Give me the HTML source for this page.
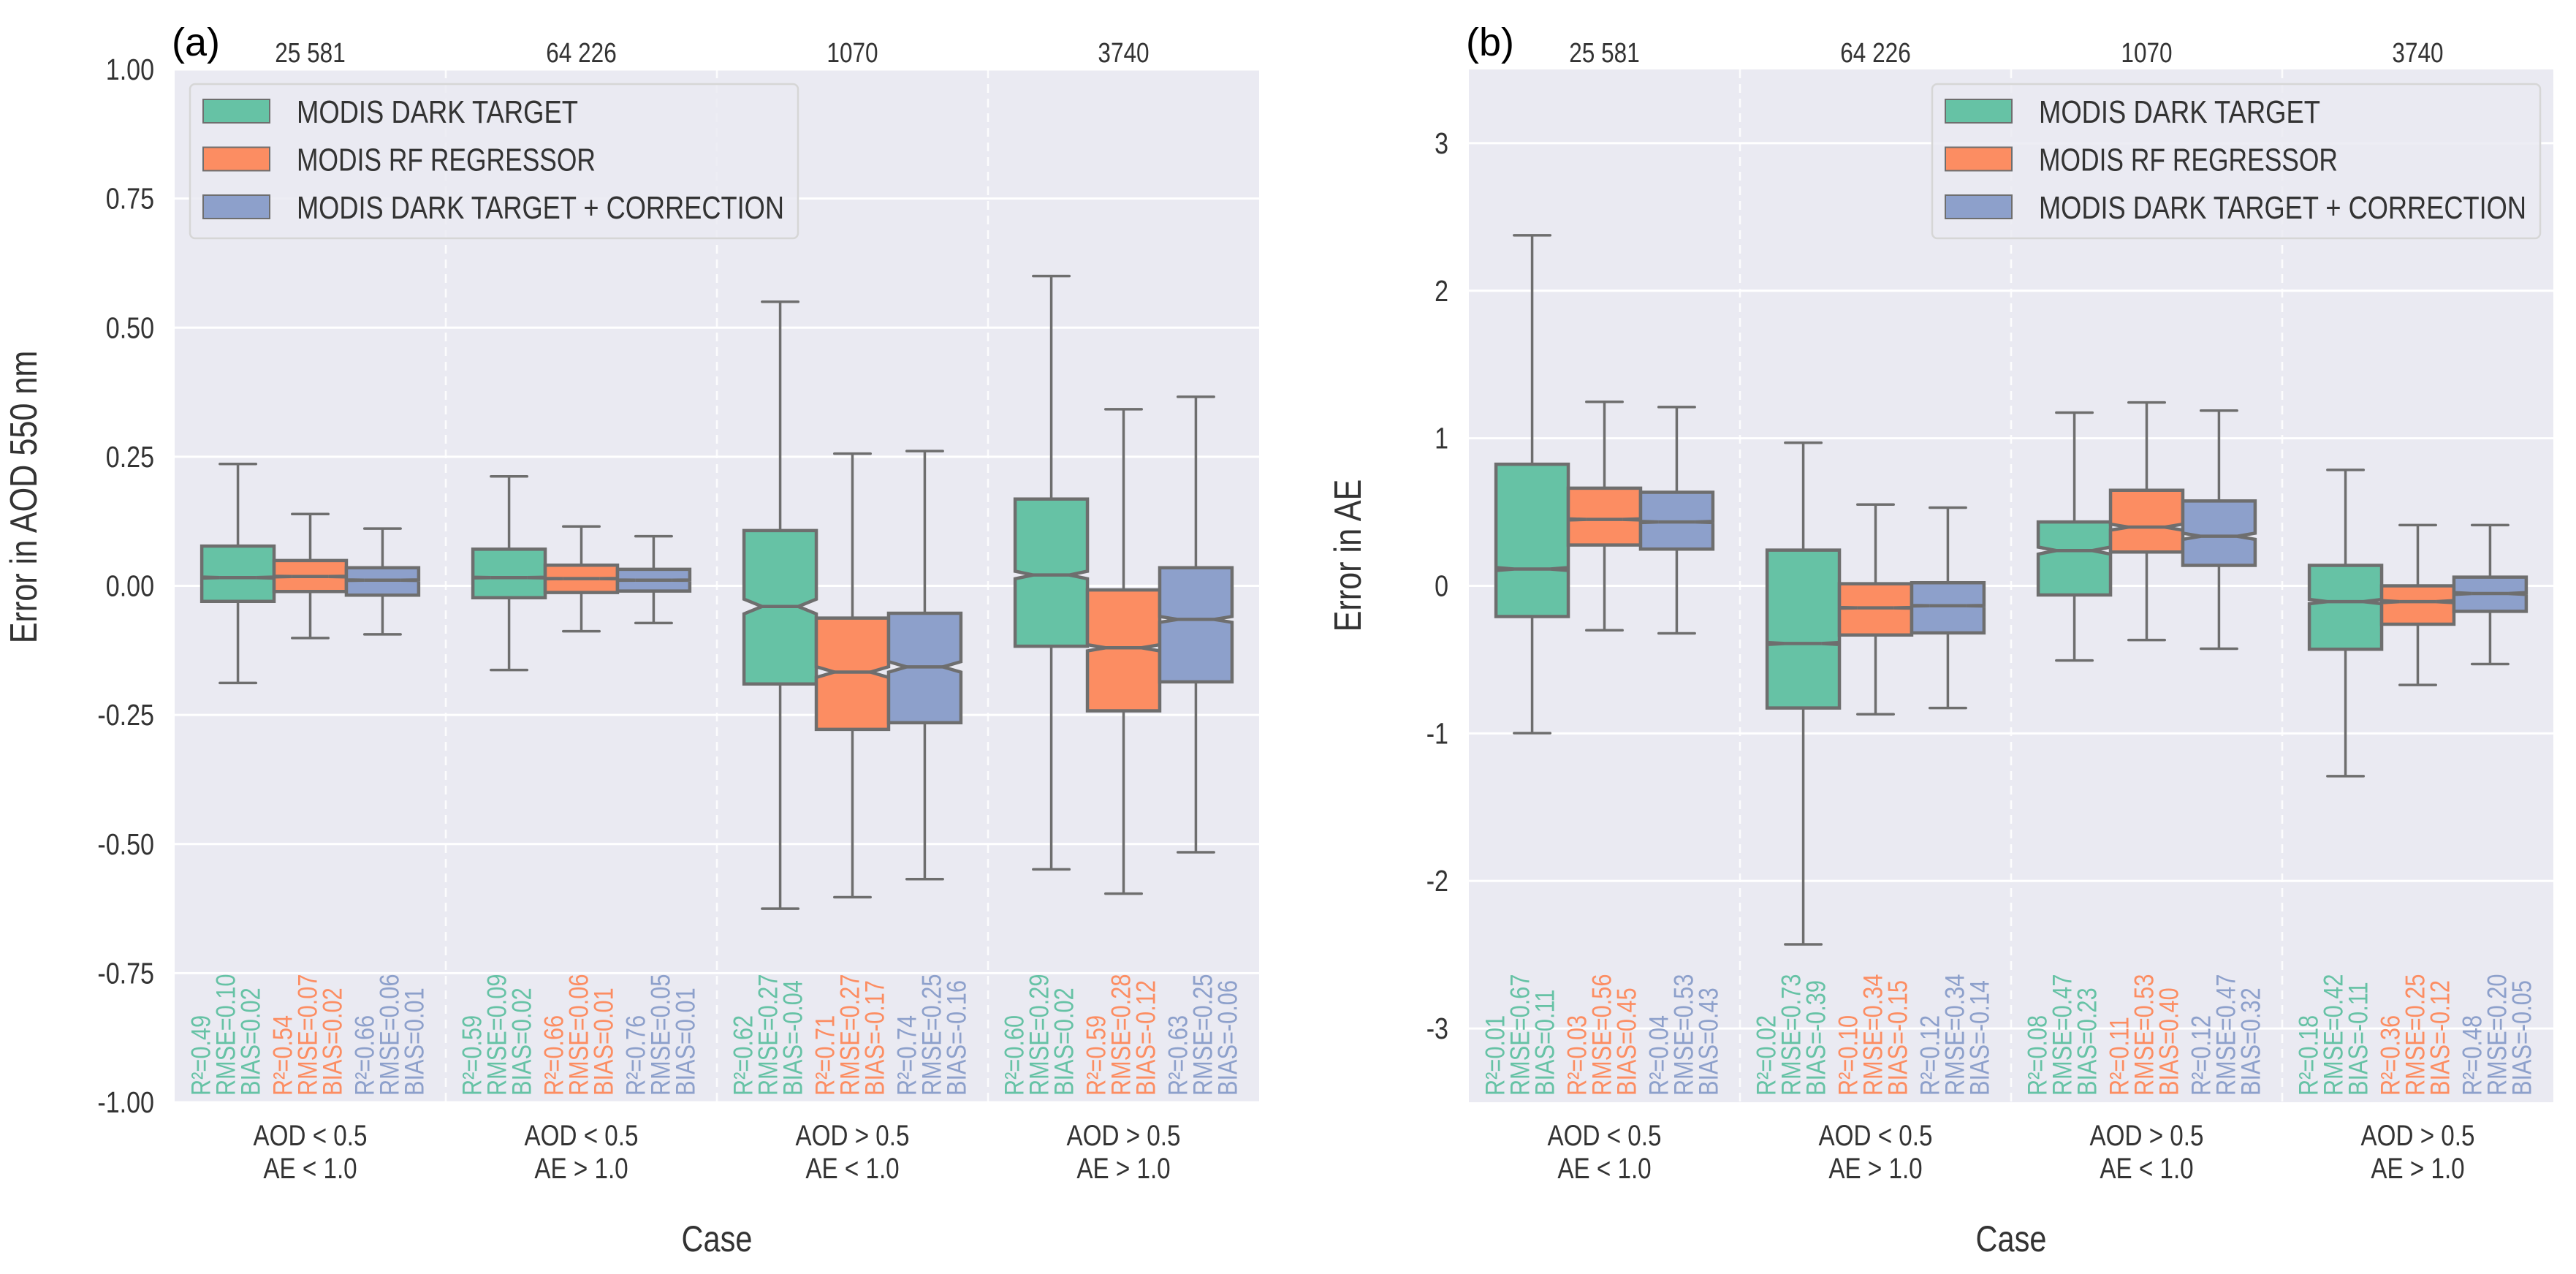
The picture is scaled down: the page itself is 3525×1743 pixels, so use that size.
<!DOCTYPE html>
<html><head><meta charset="utf-8"><title>AOD and AE error box plots</title>
<style>
html,body{margin:0;padding:0;background:#fff;}
svg{display:block;}
text{font-family:"Liberation Sans Narrow","Liberation Sans",sans-serif;}
</style></head>
<body>
<svg id="fig" xmlns="http://www.w3.org/2000/svg" width="3525" height="1743" viewBox="0 0 3525 1743"></svg>
<script>
// ---- data ----
const categoryLine1 = ["AOD < 0.5","AOD < 0.5","AOD > 0.5","AOD > 0.5"];
const categoryLine2 = ["AE < 1.0","AE > 1.0","AE < 1.0","AE > 1.0"];
const counts = [25581, 64226, 1070, 3740];
const countLabels = ["25 581","64 226","1070","3740"];
const seriesNames = ["MODIS DARK TARGET","MODIS RF REGRESSOR","MODIS DARK TARGET + CORRECTION"];
// five-number summaries [lowWhisker, q1, median, q3, highWhisker] per category
const aodDarkTarget = [[-0.188,-0.030,0.016,0.077,0.236],[-0.163,-0.023,0.016,0.071,0.212],[-0.625,-0.190,-0.040,0.107,0.550],[-0.549,-0.117,0.021,0.168,0.600]];
const aodRfRegressor = [[-0.101,-0.011,0.018,0.049,0.139],[-0.088,-0.013,0.014,0.040,0.115],[-0.603,-0.278,-0.167,-0.0625,0.256],[-0.596,-0.242,-0.120,-0.008,0.342]];
const aodCorrection = [[-0.094,-0.018,0.011,0.035,0.111],[-0.072,-0.010,0.011,0.032,0.096],[-0.568,-0.265,-0.157,-0.053,0.261],[-0.516,-0.186,-0.065,0.035,0.366]];
const aeDarkTarget = [[-0.998,-0.208,0.114,0.824,2.376],[-2.43,-0.828,-0.391,0.242,0.970],[-0.506,-0.062,0.239,0.433,1.174],[-1.29,-0.430,-0.107,0.139,0.786]];
const aeRfRegressor = [[-0.301,0.277,0.450,0.662,1.247],[-0.870,-0.333,-0.149,0.014,0.551],[-0.367,0.229,0.398,0.648,1.243],[-0.672,-0.260,-0.107,0.000,0.412]];
const aeCorrection = [[-0.322,0.249,0.433,0.634,1.212],[-0.828,-0.319,-0.135,0.021,0.530],[-0.426,0.139,0.336,0.575,1.188],[-0.530,-0.173,-0.052,0.059,0.412]];
// stats [R2, RMSE, BIAS] per category per series
const aodStatsDT = [[0.49,0.10,0.02],[0.59,0.09,0.02],[0.62,0.27,-0.04],[0.60,0.29,0.02]];
const aodStatsRF = [[0.54,0.07,0.02],[0.66,0.06,0.01],[0.71,0.27,-0.17],[0.59,0.28,-0.12]];
const aodStatsDTC = [[0.66,0.06,0.01],[0.76,0.05,0.01],[0.74,0.25,-0.16],[0.63,0.25,-0.06]];
const aeStatsDT = [[0.01,0.67,0.11],[0.02,0.73,-0.39],[0.08,0.47,0.23],[0.18,0.42,-0.11]];
const aeStatsRF = [[0.03,0.56,0.45],[0.10,0.34,-0.15],[0.11,0.53,0.40],[0.36,0.25,-0.12]];
const aeStatsDTC = [[0.04,0.53,0.43],[0.12,0.34,-0.14],[0.12,0.47,0.32],[0.48,0.20,-0.05]];
const aodTicks = [1.00,0.75,0.50,0.25,0.00,-0.25,-0.50,-0.75,-1.00];
const aeTicks = [3,2,1,0,-1,-2,-3];

const colors = ["#66c2a5","#fc8d62","#8da0cb"];
const EDGE = "#6e6e6e";
const NS = "http://www.w3.org/2000/svg";
const svg = document.getElementById('fig');
const condensed = [];
function mk(tag, attrs, parent){
  const e = document.createElementNS(NS, tag);
  for (const k in attrs) e.setAttribute(k, attrs[k]);
  (parent||svg).appendChild(e);
  return e;
}
function fmt(v){ return v.toFixed(2); }

function panel(opt){
  const L = opt.left, R = opt.left + 1484, T = 95, B = 1508;
  const y = v => T + (opt.ymax - v) / (opt.ymax - opt.ymin) * (B - T);
  const gw = (R - L) / 4;
  const gx = i => L + gw * (i + 0.5);
  const bw = gw * 0.8 / 3;
  const g = mk('g', {});
  
  
  const bg = mk('rect', {x:L, y:T, width:R-L, height:B-T, fill:'#eaeaf2'}, g);
  
  
  opt.ticks.forEach(t => {
    const gl = mk('line', {x1:L, x2:R, y1:y(t), y2:y(t), stroke:'#fff', 'stroke-width':3}, g);
    
    
    const tl = mk('text', {x:L-28, y:y(t)+14, 'text-anchor':'end', 'font-size':41, fill:'#333'}, g);
    tl.textContent = opt.tickFmt(t);
    
    
    condensed.push(tl);
  });
  for (let i = 1; i < 4; i++) {
    const sl = mk('line', {x1:L+gw*i, x2:L+gw*i, y1:T, y2:B, stroke:'#fff', 'stroke-width':2.5, 'stroke-dasharray':'12,8', opacity:0.9}, g);
    
    
  }
  opt.data.forEach((ser, s) => {
    ser.forEach((d, i) => {
      const cx = gx(i) + (s - 1) * bw;
      const bl = cx - bw/2, br = cx + bw/2, ql = cx - bw/4, qr = cx + bw/4;
      const [lo, q1, med, q3, hi] = d;
      const nh = 1.57 * (q3 - q1) / Math.sqrt(counts[i]);
      const bx = mk('g', {}, g);
      
      
      mk('line', {x1:cx, x2:cx, y1:y(q3), y2:y(hi), stroke:EDGE, 'stroke-width':3.5}, bx);
      mk('line', {x1:cx, x2:cx, y1:y(q1), y2:y(lo), stroke:EDGE, 'stroke-width':3.5}, bx);
      mk('line', {x1:ql, x2:qr, y1:y(hi), y2:y(hi), stroke:EDGE, 'stroke-width':3.5, 'stroke-linecap':'round'}, bx);
      mk('line', {x1:ql, x2:qr, y1:y(lo), y2:y(lo), stroke:EDGE, 'stroke-width':3.5, 'stroke-linecap':'round'}, bx);
      const pts = [[bl,y(q1)],[br,y(q1)],[br,y(med-nh)],[qr,y(med)],[br,y(med+nh)],[br,y(q3)],[bl,y(q3)],[bl,y(med+nh)],[ql,y(med)],[bl,y(med-nh)]];
      mk('polygon', {points:pts.map(p=>p.join(',')).join(' '), fill:colors[s], stroke:EDGE, 'stroke-width':4.5, 'stroke-linejoin':'miter'}, bx);
      mk('line', {x1:ql, x2:qr, y1:y(med), y2:y(med), stroke:EDGE, 'stroke-width':4.5}, bx);
    });
  });
  const offs = [-150, -38, 74];
  opt.stats.forEach((ser, s) => {
    ser.forEach((st, i) => {
      const lines = ['R\u00b2=' + fmt(st[0]), 'RMSE=' + fmt(st[1]), 'BIAS=' + fmt(st[2])];
      lines.forEach((tx, k) => {
        const xx = gx(i) + offs[s] + k*34 + 13;
        const t = mk('text', {x:xx, y:1499, transform:'rotate(-90 ' + xx + ' 1499)', 'font-size':37, fill:colors[s]}, g);
        t.textContent = tx;
        
        
        condensed.push(t);
      });
    });
  });
  for (let i = 0; i < 4; i++) {
    const c = mk('text', {x:gx(i), y:85, 'text-anchor':'middle', 'font-size':38, fill:'#333'}, g);
    c.textContent = countLabels[i];
    
    
    condensed.push(c);
    const a = mk('text', {x:gx(i), y:1567, 'text-anchor':'middle', 'font-size':40, fill:'#333'}, g);
    a.textContent = categoryLine1[i];
    
    
    condensed.push(a);
    const b = mk('text', {x:gx(i), y:1612, 'text-anchor':'middle', 'font-size':40, fill:'#333'}, g);
    b.textContent = categoryLine2[i];
    
    
    condensed.push(b);
  }
  const xt = mk('text', {x:(L+R)/2, y:1712, 'text-anchor':'middle', 'font-size':50, fill:'#333'}, g);
  xt.textContent = 'Case';
  
  
  condensed.push(xt);
  const yt = mk('text', {x:opt.ytX, y:opt.ytY, 'text-anchor':'middle', 'font-size':52, fill:'#333', transform:'rotate(-90 ' + opt.ytX + ' ' + opt.ytY + ')'}, g);
  yt.textContent = opt.ytitle;
  
  
  condensed.push(yt);
  const pl = mk('text', {x:L-4, y:76, 'font-size':54, fill:'#000', style:'font-family:"Liberation Sans",sans-serif'}, g);
  pl.textContent = opt.letter;
  
  
  const lg = mk('g', {}, g);
  
  
  mk('rect', {x:opt.legX, y:115, width:832, height:211, rx:7, fill:'#eaeaf2', 'fill-opacity':0.85, stroke:'#d6d6d6', 'stroke-width':2.5}, lg);
  seriesNames.forEach((n, s) => {
    const cy = 152 + s*65.5;
    const e = mk('g', {}, lg);
    
    
    mk('rect', {x:opt.legX+18, y:cy-16, width:91, height:32, fill:colors[s], stroke:EDGE, 'stroke-width':2}, e);
    const t = mk('text', {x:opt.legX+146, y:cy+16, 'font-size':44, fill:'#333', textLength:[385,409,667][s], lengthAdjust:'spacingAndGlyphs'}, e);
    t.textContent = n;
  });
}

panel({name:'aod-panel', left:239, ymin:-1, ymax:1, ticks:aodTicks, tickFmt:v=>v.toFixed(2),
  data:[aodDarkTarget, aodRfRegressor, aodCorrection], stats:[aodStatsDT, aodStatsRF, aodStatsDTC],
  ytitle:'Error in AOD 550 nm', ytX:50, ytY:680, letter:'(a)', legX:260});
panel({name:'ae-panel', left:2010, ymin:-3.5, ymax:3.5, ticks:aeTicks, tickFmt:v=>String(v),
  data:[aeDarkTarget, aeRfRegressor, aeCorrection], stats:[aeStatsDT, aeStatsRF, aeStatsDTC],
  ytitle:'Error in AE', ytX:1862, ytY:760, letter:'(b)', legX:2644});

// condense text to mimic the narrow font of the reference
condensed.forEach(t => {
  const w = t.getComputedTextLength();
  if (w > 0) {
    t.setAttribute('textLength', (w * 0.83).toFixed(1));
    t.setAttribute('lengthAdjust', 'spacingAndGlyphs');
  }
});
</script>
</body></html>
